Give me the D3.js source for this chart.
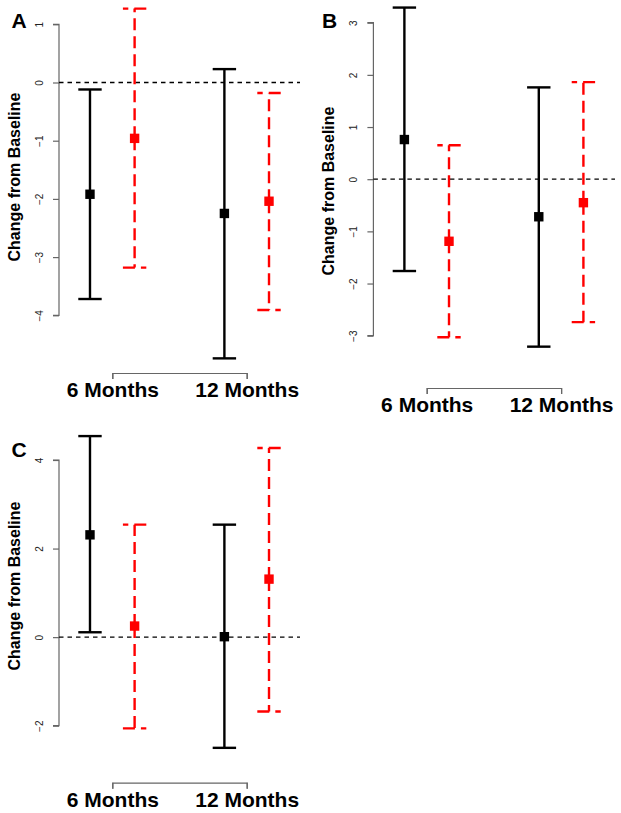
<!DOCTYPE html>
<html><head><meta charset="utf-8">
<script src="https://cdn.jsdelivr.net/npm/d3@7"></script>
<style>body{margin:0;background:#fff}svg{display:block}text{font-family:"Liberation Sans",Arial,sans-serif}</style>
</head><body>
<script>
const categories = ["6 Months", "12 Months"];
const panelLabels = ["A", "B", "C"];
const yTicksA = [1, 0, -1, -2, -3, -4];
const yTicksB = [3, 2, 1, 0, -1, -2, -3];
const yTicksC = [4, 2, 0, -2];
// Panel A
const blackMeanA = [-1.92, -2.25], blackLoA = [-3.72, -4.74], blackHiA = [-0.12, 0.23];
const redMeanA = [-0.96, -2.04], redLoA = [-3.18, -3.91], redHiA = [1.27, -0.18];
// Panel B
const blackMeanB = [0.76, -0.72], blackLoB = [-1.76, -3.21], blackHiB = [3.29, 1.76];
const redMeanB = [-1.19, -0.45], redLoB = [-3.03, -2.74], redHiB = [0.65, 1.86];
// Panel C
const blackMeanC = [2.31, 0.01], blackLoC = [0.11, -2.50], blackHiC = [4.54, 2.54];
const redMeanC = [0.25, 1.31], redLoC = [-2.06, -1.68], redHiC = [2.54, 4.27];

const W = 621, H = 813;
const svg = d3.select("body").append("svg").attr("width", W).attr("height", H);

const panels = [
  {label: panelLabels[0], ox: 0, yDom: [-4, 1], yRange: [315.3, 24.3], ticks: yTicksA, bracketY: 373,
   black: {m: blackMeanA, lo: blackLoA, hi: blackHiA}, red: {m: redMeanA, lo: redLoA, hi: redHiA}, letterY: 28, titleCY: 177, zeroEnd: 300},
  {label: panelLabels[1], ox: 314.4, yDom: [-3, 3], yRange: [335.7, 22.7], ticks: yTicksB, bracketY: 388,
   black: {m: blackMeanB, lo: blackLoB, hi: blackHiB}, red: {m: redMeanB, lo: redLoB, hi: redHiB}, letterY: 28, titleCY: 191, zeroEnd: 615 - 314.4},
  {label: panelLabels[2], ox: 0, yDom: [-2, 4], yRange: [725.7, 460], ticks: yTicksC, bracketY: 782.7,
   black: {m: blackMeanC, lo: blackLoC, hi: blackHiC}, red: {m: redMeanC, lo: redLoC, hi: redHiC}, letterY: 457, titleCY: 586, zeroEnd: 300}
];

const off = 0.166;
panels.forEach(p => {
  const g = svg.append("g").attr("transform", `translate(${p.ox},0)`);
  const x = d3.scaleLinear().domain([1, 2]).range([112.3, 246.7]);
  const y = d3.scaleLinear().domain(p.yDom).range(p.yRange);
  const axX = 59;

  // y axis
  const yAxis = d3.axisLeft(y).tickValues(p.ticks).tickSize(6).tickPadding(10)
    .tickFormat(d => d < 0 ? "\u2212" + Math.abs(d) : String(d));
  const ya = g.append("g").attr("transform", `translate(${axX},0)`).call(yAxis);
  ya.select(".domain").attr("stroke", "#666").attr("stroke-width", 1.2)
    .attr("d", `M-6,${y(p.ticks[0])}H0V${y(p.ticks[p.ticks.length-1])}H-6`);
  ya.selectAll(".tick line").attr("stroke", "#666").attr("stroke-width", 1.2);
  ya.selectAll(".tick text").attr("fill", "#222").attr("font-size", 10)
    .attr("transform", "rotate(-90)").attr("x", 0).attr("y", -16)
    .attr("text-anchor", "middle").attr("dy", "0");

  // x axis bracket
  const xAxis = d3.axisBottom(x).tickValues([1, 2]).tickSize(6).tickPadding(0).tickFormat((d, i) => categories[i]);
  const xa = g.append("g").attr("transform", `translate(0,${p.bracketY})`).call(xAxis);
  xa.select(".domain").attr("stroke", "#666").attr("stroke-width", 1.2);
  xa.selectAll(".tick line").attr("stroke", "#666").attr("stroke-width", 1.2);
  xa.selectAll(".tick text").attr("fill", "#000").attr("font-size", 21).attr("font-weight", "bold")
    .attr("y", 24).attr("dy", 0);

  // zero line
  g.append("line").attr("x1", axX).attr("x2", p.zeroEnd).attr("y1", y(0)).attr("y2", y(0))
    .attr("stroke", "#000").attr("stroke-width", 1.3).attr("stroke-dasharray", "4.5,4");

  // title + letter
  g.append("text").attr("transform", `translate(20,${p.titleCY}) rotate(-90)`)
    .attr("text-anchor", "middle").attr("font-size", 16).attr("font-weight", "bold").text("Change from Baseline");
  g.append("text").attr("x", p.label === "B" ? 7.5 : 11.5).attr("y", p.letterY).attr("font-size", 21)
    .attr("font-weight", "bold").text(p.label);

  // series
  const series = [
    {d: p.black, color: "#000", dx: -off, dash: null},
    {d: p.red, color: "#ff0000", dx: off, dash: "12,6"}
  ];
  series.forEach(s => {
    categories.forEach((c, i) => {
      const cx = x(i + 1 + s.dx);
      const yt = y(s.d.hi[i]), yb = y(s.d.lo[i]), ym = y(s.d.m[i]);
      const hw = 11.7;
      const ln = (x1, y1, x2, y2) => {
        const l = g.append("line").attr("x1", x1).attr("y1", y1).attr("x2", x2).attr("y2", y2)
          .attr("stroke", s.color).attr("stroke-width", 2.4);
        if (s.dash) l.attr("stroke-dasharray", s.dash);
        return l;
      };
      ln(cx, ym, cx, yt);
      ln(cx, ym, cx, yb);
      ln(cx + hw, yt, cx - hw, yt);
      ln(cx - hw, yb, cx + hw, yb);
      g.append("rect").attr("x", cx - 4.7).attr("y", ym - 4.7).attr("width", 9.4).attr("height", 9.4)
        .attr("fill", s.color);
    });
  });
});
</script>
</body></html>
